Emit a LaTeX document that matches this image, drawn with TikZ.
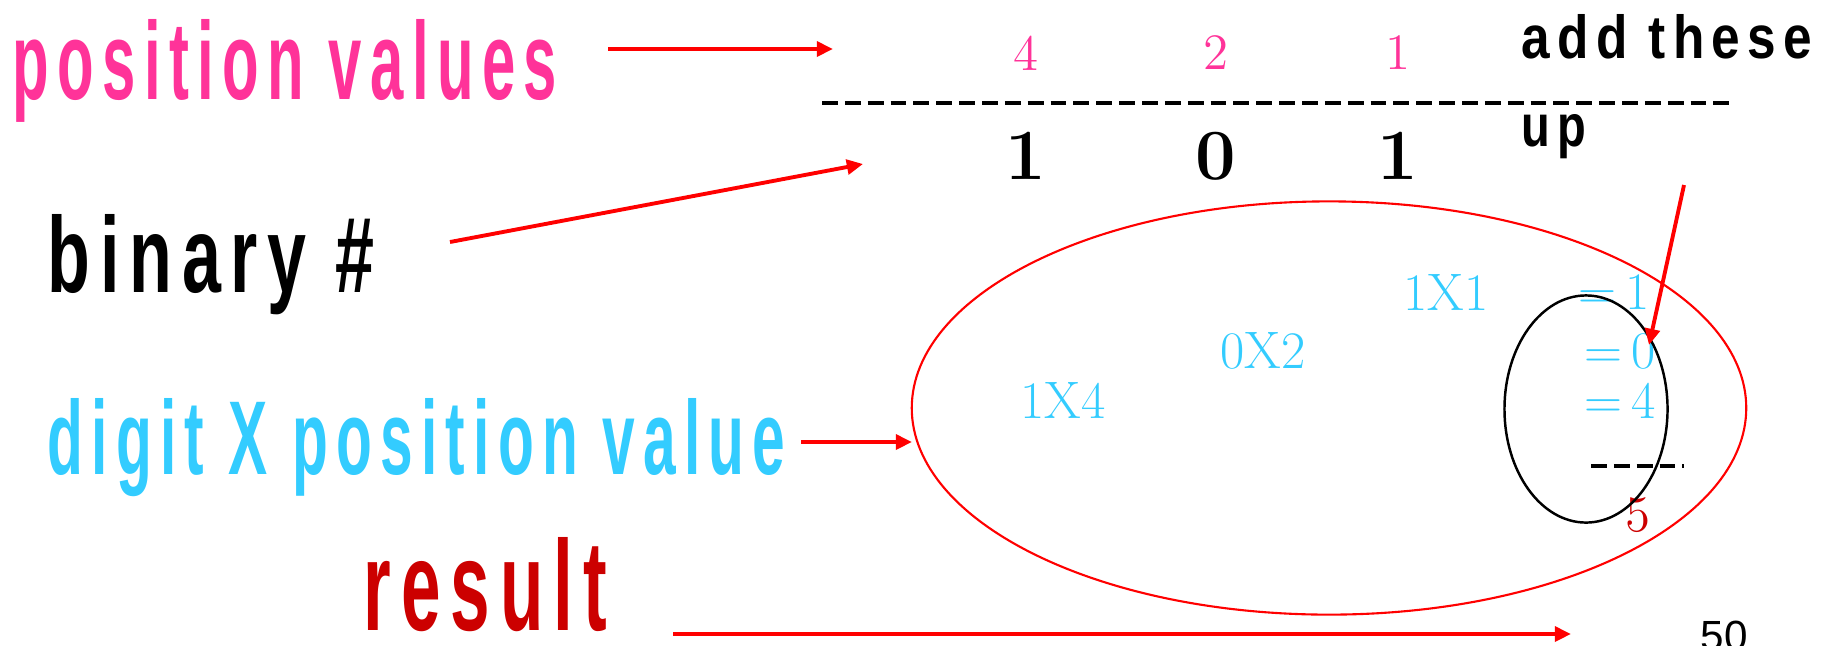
\documentclass[tikz,border=0pt]{standalone}
\usepackage{fontspec}
\setsansfont{Liberation Sans}
\usepackage{graphicx}
\usetikzlibrary{arrows.meta, positioning, shapes.geometric}
\definecolor{pinkval}{HTML}{FF3399}
\definecolor{cyanprod}{HTML}{33CCFF}
\definecolor{darkres}{HTML}{CC0000}
\definecolor{arrowred}{HTML}{FF0000}
\newcommand{\squeezed}[3]{\resizebox{#1}{#2}{\addfontfeature{LetterSpace=14}#3}}

\begin{document}
\begin{tikzpicture}[x=0.01cm, y=-0.01cm,
  word/.style={inner sep=0pt, anchor=base west, font=\sffamily\bfseries},
  hand/.style={inner sep=0pt, font=\fontsize{14.5}{16}\selectfont},
  bigdigit/.style={inner sep=0pt, font=\fontsize{20.5}{22}\selectfont\bfseries},
  prod/.style={inner sep=0pt, text=cyanprod,
               font=\fontsize{15}{17}\selectfont\addfontfeature{LetterSpace=18}},
  link/.style={draw=arrowred, line width=1.1pt,
               -{Triangle[length=4.6pt, width=4.2pt]}},
  dashrule/.style={line width=1.3pt, dash pattern=on 4.5pt off 2pt},
  ring/.style={ellipse, draw, inner sep=0pt}
]
\useasboundingbox (0,0) rectangle (1834,645);

% labels on the left
\node[word, text=pinkval] (posval) at (12,99) {\squeezed{5.44cm}{0.80cm}{position values}};
\node[word] (binnum) at (47,292) {\squeezed{3.27cm}{0.78cm}{binary \#}};
\node[word, text=cyanprod] (digpos) at (47,474) {\squeezed{7.37cm}{0.76cm}{digit X position value}};
\node[word, text=darkres] (result) at (363,630) {\squeezed{2.43cm}{0.93cm}{result}};
\node[word] (addthese) at (1521,58) {\squeezed{2.90cm}{0.44cm}{add these}};
\node[word] (addup) at (1521,146) {\squeezed{0.64cm}{0.32cm}{up}};

% position values and the binary number
\node[hand, text=pinkval] (pv4) at (1026,53) {4};
\node[hand, text=pinkval] (pv2) at (1216,53) {2};
\node[hand, text=pinkval] (pv1) at (1398,53) {1};
\coordinate (ruleL) at (822,103);
\coordinate (ruleR) at (1731,103);
\draw[dashrule] (ruleL) -- (ruleR);
\node[bigdigit] (bd1) at (1026,156) {1};
\node[bigdigit] (bd0) at (1216,156) {0};
\node[bigdigit] (bd2) at (1398,156) {1};

% products
\node[ring, draw=arrowred, line width=0.6pt, minimum width=8.34cm, minimum height=4.13cm]
  (prodring) at (1329,408) {};
\node[prod] (p4) at (1063,400) {1X4};
\node[prod] (p2) at (1263,351) {0X2};
\node[prod] (p1) at (1446,292) {1X1};
\node[prod] (e1) at (1614,292) {=\,1};
\node[prod] (e0) at (1620,351) {=\,0};
\node[prod] (e4) at (1620,401) {=\,4};
\coordinate (sumL) at (1591,466);
\coordinate (sumR) at (1684,466);
\draw[dashrule] (sumL) -- (sumR);
\node[hand, text=darkres] (total) at (1638,515) {5};
\node[ring, line width=0.7pt, minimum width=1.63cm, minimum height=2.27cm]
  (sumring) at (1586,409) {};

\node[inner sep=0pt, anchor=base west, font=\sffamily\fontsize{12}{14}\selectfont]
  (pagenum) at (1700,650) {50};

% arrows
\coordinate (pvA) at (608,49);   \coordinate (pvB) at (833,49);
\coordinate (bnA) at (450,242);  \coordinate (bnB) at (863,164);
\coordinate (dgA) at (801,442);  \coordinate (dgB) at (912,442);
\coordinate (upA) at (1684,185); \coordinate (upB) at (1649,345);
\coordinate (rsA) at (673,634);  \coordinate (rsB) at (1571,634);
\draw[link] (pvA) -- (pvB);
\draw[link] (bnA) -- (bnB);
\draw[link] (dgA) -- (dgB);
\draw[link] (upA) -- (upB);
\draw[link] (rsA) -- (rsB);
\end{tikzpicture}
\end{document}
